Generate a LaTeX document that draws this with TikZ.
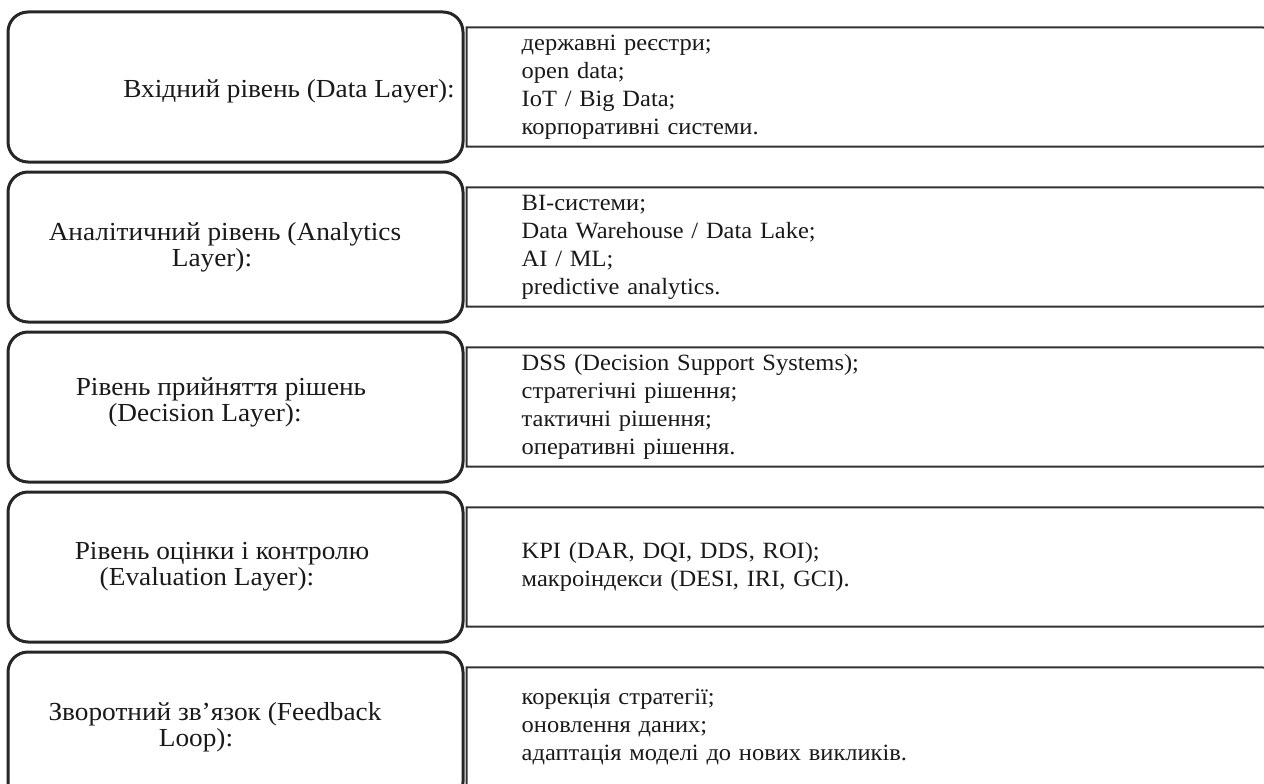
\documentclass[tikz,border=0pt]{standalone}
\usepackage{fontspec}
\setmainfont{Liberation Serif}[FakeStretch=1.05]
\usetikzlibrary{positioning}

\begin{document}
\begin{tikzpicture}[x=1pt, y=-1pt,
    layer/.style={draw=black!85, line width=3pt, rounded corners=20pt,
        minimum width=455pt, minimum height=150pt, inner sep=0pt},
    items/.style={minimum width=803pt, minimum height=119pt, text width=693pt,
        inner xsep=55pt, inner ysep=0pt, align=left,
        font=\fontsize{23.3}{28}\selectfont, text=black!90},
    itemline/.style={draw=black!80, line width=2pt, line cap=rect},
    caption/.style={align=center, inner sep=0pt,
        font=\fontsize{26}{26}\selectfont, text=black!90}]
    \useasboundingbox (0,0) rectangle (1264,784);
    \clip (0,0) rectangle (1264,784);

    % layers
    \node[layer] (l1) at (235.5,87) {};
    \node[layer] (l2) [below=7pt of l1] {};
    \node[layer] (l3) [below=7pt of l2] {};
    \node[layer] (l4) [below=7pt of l3] {};
    \node[layer] (l5) [below=7pt of l4] {};

    \node[caption] (t1) at ([xshift=53.5pt, yshift=-4pt]l1.center) {Вхідний рівень (Data Layer):};
    \node[caption] (t2) at ([xshift=-23.5pt]l2.center) {\hspace*{26pt}Аналітичний рівень (Analytics\\ Layer):};
    \node[caption] (t3) at ([xshift=-30.5pt, yshift=5pt]l3.center) {\hspace*{32pt}Рівень прийняття рішень\\ (Decision Layer):};
    \node[caption] (t4) at ([xshift=-28.5pt]l4.center) {\hspace*{30pt}Рівень оцінки і контролю\\ (Evaluation Layer):};
    \node[caption] (t5) at ([xshift=-39.5pt]l5.center) {\hspace*{38pt}Зворотний зв’язок (Feedback\\ Loop):};

    % contents
    \node[items] (i1) [right=2pt of l1] {державні реєстри;\\ open data;\\ IoT / Big Data;\\ корпоративні системи.};
    \node[items] (i2) [right=2pt of l2] {BI-системи;\\ Data Warehouse / Data Lake;\\ AI / ML;\\ predictive analytics.};
    \node[items] (i3) [right=2pt of l3] {DSS (Decision Support Systems);\\ стратегічні рішення;\\ тактичні рішення;\\ оперативні рішення.};
    \node[items] (i4) [right=2pt of l4] {KPI (DAR, DQI, DDS, ROI);\\ макроіндекси (DESI, IRI, GCI).};
    \node[items] (i5) [right=2pt of l5] {корекція стратегії;\\ оновлення даних;\\ адаптація моделі до нових викликів.};

    \foreach \i in {i1,i2,i3,i4,i5}
        \draw[itemline, rounded corners=8pt] (\i.north west) -- (\i.north east) -- (\i.south east) -- (\i.south west)
            (\i.north west) -- (\i.south west);
\end{tikzpicture}
\end{document}
